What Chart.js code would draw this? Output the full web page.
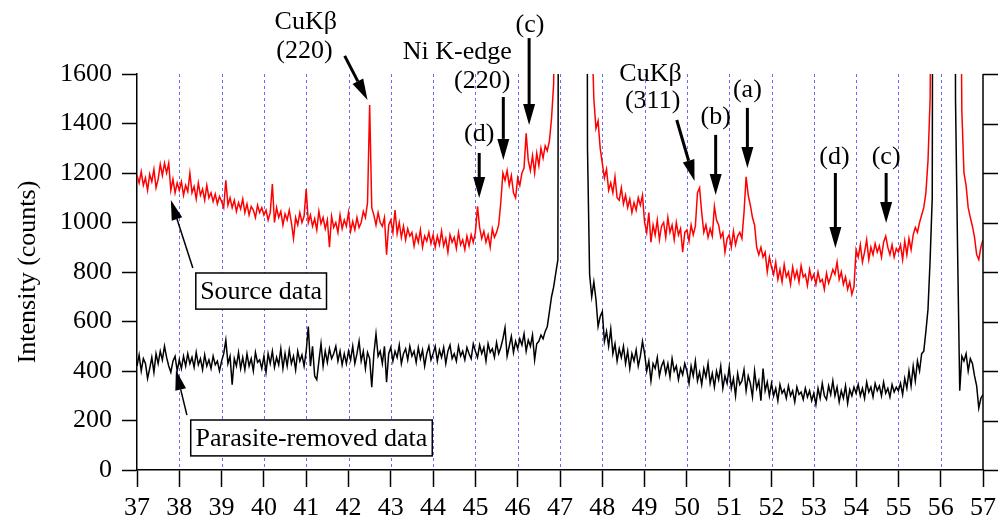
<!DOCTYPE html>
<html>
<head>
<meta charset="utf-8">
<style>
  html, body { margin: 0; padding: 0; background: #fff; }
  canvas { display: block; }
</style>
<script src="https://cdn.jsdelivr.net/npm/chart.js@4.4.1/dist/chart.umd.min.js"></script>
</head>
<body>
<canvas id="xrd" width="1002" height="526"></canvas>
<script>
// sampling of both scans: 37.00 .. 57.00 in steps of 0.05 deg
const xStart = 37;
const xStep = 0.05;

// red curve, one line per degree (37.00 .. 37.95, 38.00 .. 38.95, ...)
const sourceCounts = [
  1190, 1160, 1205, 1150, 1180, 1130, 1195, 1165, 1215, 1140, 1175, 1235, 1190, 1240, 1200, 1240, 1130, 1175, 1120, 1160,
  1130, 1165, 1110, 1150, 1125, 1200, 1120, 1145, 1095, 1160, 1110, 1135, 1090, 1150, 1100, 1120, 1085, 1115, 1075, 1105,
  1085, 1060, 1170, 1070, 1100, 1060, 1090, 1045, 1080, 1055, 1095, 1040, 1075, 1030, 1065, 1050, 1020, 1070, 1040, 1060,
  1030, 1050, 1010, 1040, 1155, 1000, 1060, 1020, 1045, 990, 1035, 1010, 1050, 1000, 935, 1020, 990, 1040, 1000, 1025,
  1135, 1000, 1030, 985, 1015, 970, 1045, 995, 1020, 975, 1010, 900, 1025, 980, 1000, 960, 1030, 975, 1010, 985,
  1040, 965, 1005, 970, 1020, 980, 1000, 1045, 1020, 1080, 1475, 1060, 1030, 990, 1040, 1000, 985, 1020, 870, 990,
  1010, 960, 1050, 955, 1000, 940, 985, 930, 975, 945, 960, 905, 950, 920, 970, 900, 945, 925, 960, 915,
  950, 900, 945, 910, 965, 905, 935, 880, 950, 920, 940, 895, 960, 910, 930, 890, 945, 905, 950, 920,
  960, 1065, 980, 935, 965, 920, 950, 900, 975, 940, 960, 990, 1080, 1200, 1170, 1210, 1150, 1190, 1120, 1100,
  1180, 1150, 1200, 1220, 1360, 1250, 1210, 1270, 1200, 1280, 1230, 1300, 1260, 1310, 1290, 1330, 1420, 1560, 2600, 4000,
  5000, 5000, 5000, 5000, 5000, 5000, 5000, 5000, 5000, 5000, 5000, 5000, 5000, 5000, 5000, 1800, 1500, 1380, 1410, 1300,
  1240, 1180, 1215, 1130, 1160, 1120, 1185, 1100, 1090, 1140, 1075, 1110, 1060, 1095, 1040, 1080, 1050, 1100, 1070, 1110,
  1000, 960, 1040, 920, 990, 950, 1010, 930, 985, 1000, 940, 1020, 960, 990, 930, 1000, 950, 975, 880, 960,
  970, 925, 990, 950, 985, 1120, 1140, 1040, 960, 990, 940, 975, 945, 1065, 1010, 990, 940, 960, 880, 935,
  950, 900, 965, 910, 945, 960, 935, 1040, 1185, 1110, 1070, 1020, 990, 900, 870, 900, 860, 880, 800, 860,
  820, 790, 840, 770, 810, 760, 830, 780, 800, 750, 820, 775, 805, 760, 825, 780, 790, 745, 810, 770,
  790, 750, 800, 760, 770, 730, 795, 755, 780, 810, 790, 840, 770, 800, 750, 780, 730, 760, 710, 740,
  890, 860, 910, 840, 880, 930, 850, 900, 870, 915, 880, 905, 860, 920, 945, 900, 870, 910, 860, 895,
  880, 910, 850, 925, 870, 935, 890, 950, 980, 960, 1000, 1030, 1060, 1120, 1250, 1500, 2500, 4500, 5000, 5000,
  5000, 5000, 5000, 5000, 5000, 5000, 5000, 5000, 5000, 2600, 1450, 1200, 1150, 1060, 1020, 985, 940, 870, 850, 900,
  930
];

// black curve, same sampling
const removedCounts = [
  420, 465, 400, 450, 430, 370, 410, 455, 395, 470, 430, 480, 445, 500, 455, 420, 395, 440, 460, 400,
  445, 410, 460, 420, 470, 430, 455, 415, 475, 425, 450, 405, 465, 420, 445, 410, 460, 425, 440, 400,
  440, 470, 525, 430, 460, 345, 450, 420, 475, 410, 455, 405, 470, 420, 450, 400, 475, 435, 445, 410,
  460, 395, 470, 430, 480, 415, 455, 425, 490, 410, 470, 420, 485, 430, 460, 405, 480, 440, 465, 420,
  480, 580, 420, 500, 380, 365, 440, 510, 420, 480, 435, 490, 450, 470, 500, 440, 480, 425, 470, 430,
  480, 445, 500, 430, 470, 520, 440, 480, 410, 475, 450, 335, 470, 550, 460, 480, 430, 500, 355, 470,
  495, 440, 480, 455, 505, 430, 470, 490, 445, 500, 460, 480, 435, 495, 450, 485, 420, 470, 500, 445,
  470, 500, 440, 485, 455, 495, 430, 480, 505, 450, 470, 440, 500, 460, 480, 445, 495, 470, 450, 510,
  480, 455, 505, 470, 495, 440, 510, 475, 490, 455, 515, 470, 495, 530, 575, 460, 500, 540, 475, 520,
  490, 530, 505, 550, 480, 525, 500, 545, 445, 510, 520, 545, 530, 560, 580, 640, 700, 740, 795, 850,
  6000, 6000, 6000, 6000, 6000, 6000, 6000, 6000, 6000, 6000, 6000, 6000, 6000, 1300, 790, 700, 760, 690, 580, 620,
  640, 520, 560, 500, 570, 470, 510, 440, 490, 455, 500, 430, 480, 410, 470, 440, 485, 420, 460, 520,
  470, 400, 440, 360, 430, 410, 455, 380, 420, 440, 390, 430, 375, 450, 400, 420, 365, 410, 385, 430,
  400, 350, 420, 380, 440, 360, 395, 345, 410, 375, 430, 350, 390, 335, 400, 365, 420, 330, 380, 350,
  415, 330, 370, 300, 390, 345, 360, 405, 320, 380, 350, 295, 400, 330, 360, 280, 410, 320, 355, 300,
  350, 300, 330, 280, 345, 310, 325, 290, 340, 300, 320, 275, 335, 305, 315, 285, 330, 295, 320, 280,
  310, 265, 330, 290, 350, 300, 285, 340, 305, 360, 300, 335, 275, 320, 290, 340, 270, 325, 300, 335,
  310, 345, 300, 330, 290, 355, 315, 335, 295, 350, 320, 340, 300, 355, 310, 330, 295, 345, 315, 335,
  320, 350, 305, 370, 330, 400, 340, 420, 360, 440, 400, 470, 480, 560, 650, 850, 1100, 6000, 6000, 6000,
  6000, 6000, 6000, 6000, 6000, 6000, 6000, 1500, 880, 320, 460, 440, 470, 400, 450, 430, 380, 340, 250, 290,
  305
];

const xRange = [37, 57];
const yRange = [0, 1600];
const yTickStep = 200;
const yTitle = "Intensity (counts)";

// peak labels, centred on (x deg, counts)
const peakLabels = [
  { text: "CuKβ", x: 40.99, y: 1810 },
  { text: "(220)", x: 40.96, y: 1693 },
  { text: "Ni K-edge", x: 44.57, y: 1689 },
  { text: "(220)", x: 45.16, y: 1570 },
  { text: "(c)", x: 46.29, y: 1796 },
  { text: "(d)", x: 45.09, y: 1356 },
  { text: "CuKβ", x: 49.14, y: 1600 },
  { text: "(311)", x: 49.19, y: 1491 },
  { text: "(b)", x: 50.68, y: 1426 },
  { text: "(a)", x: 51.43, y: 1535 },
  { text: "(d)", x: 53.49, y: 1265 },
  { text: "(c)", x: 54.71, y: 1265 }
];

// arrows: [x1, y1] tail -> [x2, y2] tip
const peakArrows = [
  [41.91, 1673, 42.45, 1495],
  [45.66, 1507, 45.66, 1253],
  [46.27, 1745, 46.27, 1394],
  [45.09, 1281, 45.09, 1099],
  [49.76, 1414, 50.18, 1168],
  [50.68, 1354, 50.68, 1111],
  [51.43, 1463, 51.43, 1220],
  [53.51, 1200, 53.51, 897],
  [54.71, 1200, 54.71, 998]
];

const seriesBoxes = [
  { text: "Source data", x1: 38.39, x2: 41.48, y1: 796, y2: 650, arrow: [38.32, 816, 37.80, 1091] },
  { text: "Parasite-removed data", x1: 38.27, x2: 43.98, y1: 202, y2: 57, arrow: [38.18, 222, 37.92, 404] }
];

(function () {
  const serif = "'Liberation Serif', 'Times New Roman', 'DejaVu Serif', serif";
  const gridBlue = "#6a6aff";

  function toPoints(values) {
    return values.map((v, i) => ({ x: xStart + i * xStep, y: v }));
  }

  function arrow(ctx, x1, y1, x2, y2, width, headLen, headW) {
    const ang = Math.atan2(y2 - y1, x2 - x1);
    const bx = x2 - headLen * Math.cos(ang);
    const by = y2 - headLen * Math.sin(ang);
    ctx.lineWidth = width;
    ctx.beginPath();
    ctx.moveTo(x1, y1);
    ctx.lineTo(bx, by);
    ctx.stroke();
    const ox = (headW / 2) * Math.sin(ang);
    const oy = (headW / 2) * Math.cos(ang);
    ctx.beginPath();
    ctx.moveTo(x2, y2);
    ctx.lineTo(bx + ox, by - oy);
    ctx.lineTo(bx - ox, by + oy);
    ctx.closePath();
    ctx.fill();
  }

  const decorations = {
    id: "decorations",
    beforeDatasetsDraw(chart) {
      const { ctx, chartArea: a, scales: { x } } = chart;
      ctx.save();
      ctx.strokeStyle = gridBlue;
      ctx.lineWidth = 1;
      ctx.setLineDash([3, 3]);
      x.ticks.forEach((t) => {
        if (t.value <= x.min || t.value >= x.max) {
          return;
        }
        const px = Math.round(x.getPixelForValue(t.value)) + 0.5;
        ctx.beginPath();
        ctx.moveTo(px, a.top);
        ctx.lineTo(px, a.bottom);
        ctx.stroke();
      });
      ctx.restore();
    },
    afterDraw(chart) {
      const { ctx, chartArea: a, scales: { x, y } } = chart;
      const px = (v) => x.getPixelForValue(v);
      const py = (v) => y.getPixelForValue(v);
      ctx.save();

      // right-hand axis with outward ticks, no labels
      ctx.strokeStyle = "#000";
      ctx.lineWidth = 1.5;
      ctx.beginPath();
      ctx.moveTo(a.right, a.top);
      ctx.lineTo(a.right, a.bottom);
      ctx.stroke();
      y.ticks.forEach((t) => {
        const yy = Math.round(py(t.value)) + 0.5;
        ctx.beginPath();
        ctx.moveTo(a.right, yy);
        ctx.lineTo(a.right + 15, yy);
        ctx.stroke();
      });

      ctx.fillStyle = "#000";
      ctx.font = "26px " + serif;
      ctx.textAlign = "center";
      ctx.textBaseline = "middle";
      peakLabels.forEach((l) => ctx.fillText(l.text, px(l.x), py(l.y)));

      peakArrows.forEach((r) => arrow(ctx, px(r[0]), py(r[1]), px(r[2]), py(r[3]), 3, 21, 12));

      seriesBoxes.forEach((b) => {
        const x1 = px(b.x1), x2 = px(b.x2), y1 = py(b.y1), y2 = py(b.y2);
        ctx.fillStyle = "#fff";
        ctx.fillRect(x1, y1, x2 - x1, y2 - y1);
        ctx.lineWidth = 1.5;
        ctx.strokeRect(x1, y1, x2 - x1, y2 - y1);
        ctx.fillStyle = "#000";
        ctx.fillText(b.text, (x1 + x2) / 2, (y1 + y2) / 2 + 1);
        const r = b.arrow;
        arrow(ctx, px(r[0]), py(r[1]), px(r[2]), py(r[3]), 1.5, 20, 11);
      });

      ctx.restore();
    }
  };

  const tickFont = { family: serif, size: 26 };

  new Chart(document.getElementById("xrd"), {
    type: "line",
    data: {
      datasets: [
        {
          label: "Parasite-removed data",
          data: toPoints(removedCounts),
          borderColor: "#000",
          borderWidth: 1.5,
          pointRadius: 0,
          tension: 0
        },
        {
          label: "Source data",
          data: toPoints(sourceCounts),
          borderColor: "#ff0000",
          borderWidth: 1.5,
          pointRadius: 0,
          tension: 0
        }
      ]
    },
    options: {
      responsive: false,
      animation: false,
      devicePixelRatio: 1,
      layout: { padding: { top: 74, right: 17, left: 0, bottom: 0 } },
      plugins: {
        legend: { display: false },
        tooltip: { enabled: false }
      },
      scales: {
        x: {
          type: "linear",
          min: xRange[0],
          max: xRange[1],
          ticks: {
            stepSize: 1,
            color: "#000",
            font: tickFont,
            padding: 6,
            maxRotation: 0,
            autoSkip: false,
            callback: (v) => String(v)
          },
          grid: { drawOnChartArea: false, tickLength: 17, tickColor: "#000", tickWidth: 1.5 },
          border: { color: "#000", width: 1.5 },
          afterFit(scale) {
            scale.height = 56;
          }
        },
        y: {
          min: yRange[0],
          max: yRange[1],
          ticks: {
            stepSize: yTickStep,
            color: "#000",
            font: tickFont,
            padding: 10,
            callback: (v) => String(v)
          },
          grid: { drawOnChartArea: false, tickLength: 15, tickColor: "#000", tickWidth: 1.5 },
          border: { color: "#000", width: 1.5 },
          title: { display: true, text: yTitle, color: "#000", font: tickFont, padding: { top: 13, bottom: 0 } },
          afterFit(scale) {
            scale.width = 137;
          }
        }
      }
    },
    plugins: [decorations]
  });
})();
</script>
</body>
</html>
